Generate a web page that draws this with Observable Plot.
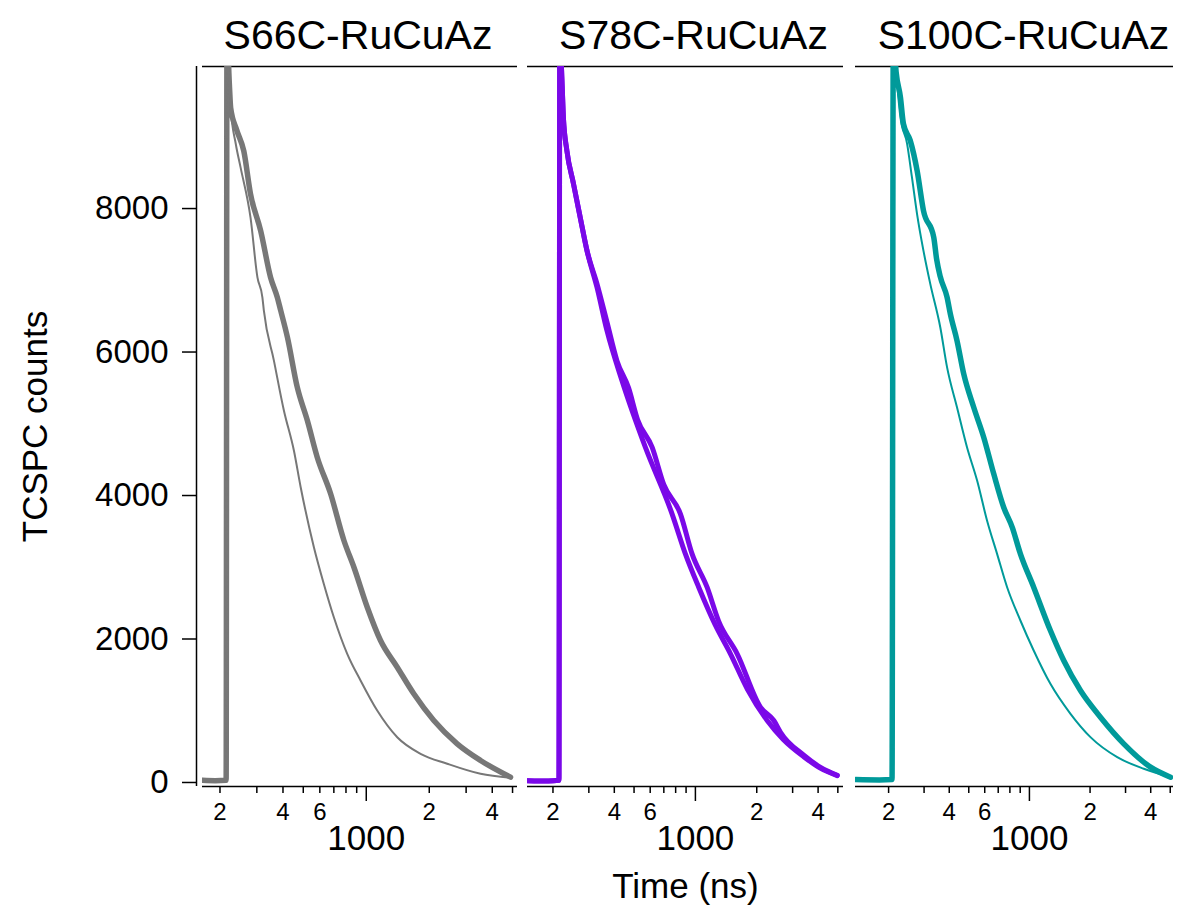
<!DOCTYPE html>
<html>
<head>
<meta charset="utf-8">
<script src="https://cdn.jsdelivr.net/npm/d3@7"></script>
<script src="https://cdn.jsdelivr.net/npm/@observablehq/plot@0.6"></script>
<style>
  html, body { margin: 0; padding: 0; background: white; }
  #chart { position: relative; width: 1177px; height: 909px; font-family: Arial, "Liberation Sans", sans-serif; }
</style>
</head>
<body>
<div id="chart"></div>
<script>
// ---- data: [time (ns), TCSPC counts] ----
const titles = ["S66C-RuCuAz", "S78C-RuCuAz", "S100C-RuCuAz"];
const colors = ["#777777", "#7a08e8", "#009a9a"];

const s66Thick = [[165,30],[190,25],[214,30],[216,10400],[222,9700],[225,9400],[240,9100],[260,8800],[280,8200],[313,7690],[349,7040],[376,6760],[390,6580],[420,6206],[468,5510],[523,5045],[583,4534],[675,4028],[782,3373],[873,3000],[1011,2443],[1170,1979],[1406,1607],[1687,1236],[2103,864],[2720,539],[3515,307],[4890,74]];
const s66Thin = [[165,30],[190,25],[214,30],[216,10400],[222,9700],[225,9400],[238,8900],[251,8570],[280,7870],[302,7040],[319,6760],[324,6580],[362,5880],[404,5185],[451,4627],[486,4116],[562,3280],[627,2768],[700,2304],[811,1794],[939,1422],[1128,1003],[1406,631],[1817,400],[2437,261],[3515,121],[4890,65]];

const s78A = [[150,25],[190,20],[214,30],[216,10400],[222,9700],[225,9270],[234,8810],[252,8350],[272,7880],[294,7410],[329,6950],[368,6420],[412,5880],[470,5500],[520,5060],[613,4673],[700,4150],[844,3745],[963,3187],[1141,2722],[1300,2250],[1603,1794],[2085,1050],[2425,864],[2615,700],[3403,380],[4111,210],[4966,100]];
const s78B = [[150,25],[190,20],[214,30],[216,10400],[222,9700],[225,9270],[234,8810],[252,8350],[272,7880],[294,7410],[329,6900],[368,6300],[436,5603],[568,4673],[768,3745],[893,3187],[1038,2722],[1250,2200],[1486,1794],[1800,1300],[2250,864],[2700,600],[3400,360],[4100,200],[4966,95]];

const s100Thick = [[137,40],[180,35],[208,40],[211,10400],[218,9900],[229,9550],[237,9180],[256,8950],[277,8530],[298,7970],[335,7600],[346,7300],[361,7050],[390,6765],[405,6531],[437,6160],[472,5695],[529,5230],[593,4813],[665,4302],[745,3837],[821,3560],[902,3187],[1050,2722],[1271,2118],[1480,1700],[1792,1282],[2253,910],[2942,539],[3991,214],[5018,74]];
const s100Thin = [[137,40],[180,35],[208,40],[211,10400],[218,9900],[229,9270],[247,8905],[261,8440],[277,7920],[298,7410],[322,6950],[361,6346],[390,5789],[437,5230],[490,4673],[550,4209],[616,3652],[691,3187],[775,2722],[902,2258],[1050,1840],[1271,1375],[1599,957],[2009,632],[2728,353],[3697,191],[5018,74]];

const yTicks = [0, 2000, 4000, 6000, 8000];
const minorTicks = [200, 300, 400, 500, 600, 700, 800, 900, 2000, 3000, 4000, 5000];
const minorLabels = ["2", "", "4", "", "6", "", "", "", "2", "", "4", ""];
const majorTicks = [1000];
const majorLabels = ["1000"];
const yLabel = "TCSPC counts";
const xLabel = "Time (ns)";

// ---- layout ----
const W = 1177, H = 909;
const yDomain = [-56, 9980];
const panels = [
  {series: [s66Thick, s66Thin], widths: [5.5, 2], left: 202, right: 517, xDomain: [165, 5280], title: titles[0], titleDx: -2, color: colors[0], yAxis: true},
  {series: [s78A, s78B], widths: [5, 5], left: 527, right: 843, xDomain: [150, 5330], title: titles[1], titleDx: 8, color: colors[1], xLabel: true},
  {series: [s100Thick, s100Thin], widths: [5.5, 2], left: 855, right: 1173, xDomain: [137, 5190], title: titles[2], titleDx: 9, color: colors[2]}
];

const font = "Arial, 'Liberation Sans', sans-serif";
const chart = document.getElementById("chart");

for (const p of panels) {
  const marks = [
    Plot.ruleY([yDomain[1]], {stroke: "black", strokeWidth: 1.5}),
    Plot.ruleY([yDomain[0]], {stroke: "black", strokeWidth: 1.5}),
    Plot.axisX({ticks: minorTicks, tickSize: 7, tickPadding: 9, fontSize: 24, strokeWidth: 1.5,
      tickFormat: d => minorLabels[minorTicks.indexOf(d)], label: null}),
    Plot.axisX({ticks: majorTicks, tickSize: 15, tickPadding: 24, fontSize: 35, strokeWidth: 1.5,
      tickFormat: d => majorLabels[majorTicks.indexOf(d)], label: null}),
    ...p.series.map((s, i) => Plot.line(s, {x: d => d[0], y: d => d[1], stroke: p.color, strokeWidth: p.widths[i], clip: true, strokeLinejoin: "round", curve: "monotone-x"})),
    Plot.text([p.title], {frameAnchor: "top", lineAnchor: "middle", dy: -31, dx: p.titleDx, fontSize: 41, fill: "black"})
  ];
  if (p.yAxis) {
    marks.push(
      Plot.ruleX([p.xDomain[0]], {dx: -6, stroke: "black", strokeWidth: 1.5}),
      Plot.axisY({ticks: yTicks, tickSize: 14, tickPadding: 14, dx: -6, fontSize: 33, strokeWidth: 1.5, tickFormat: d => String(d), label: null}),
      Plot.text([yLabel], {frameAnchor: "left", textAnchor: "middle", lineAnchor: "middle", dx: -167, rotate: -90, fontSize: 35, fill: "black"})
    );
  }
  if (p.xLabel) {
    marks.push(Plot.text([xLabel], {frameAnchor: "bottom", lineAnchor: "middle", dy: 100, fontSize: 35, fill: "black"}));
  }
  const svg = Plot.plot({
    width: W,
    height: H,
    marginLeft: p.left,
    marginRight: W - p.right,
    marginTop: 66,
    marginBottom: H - 786,
    x: {type: "log", domain: p.xDomain},
    y: {domain: yDomain, axis: p.yAxis ? undefined : null},
    style: {background: "transparent", overflow: "visible", position: "absolute", left: "0px", top: "0px", fontFamily: font, color: "black"},
    marks
  });
  chart.appendChild(svg);
}
</script>
</body>
</html>
